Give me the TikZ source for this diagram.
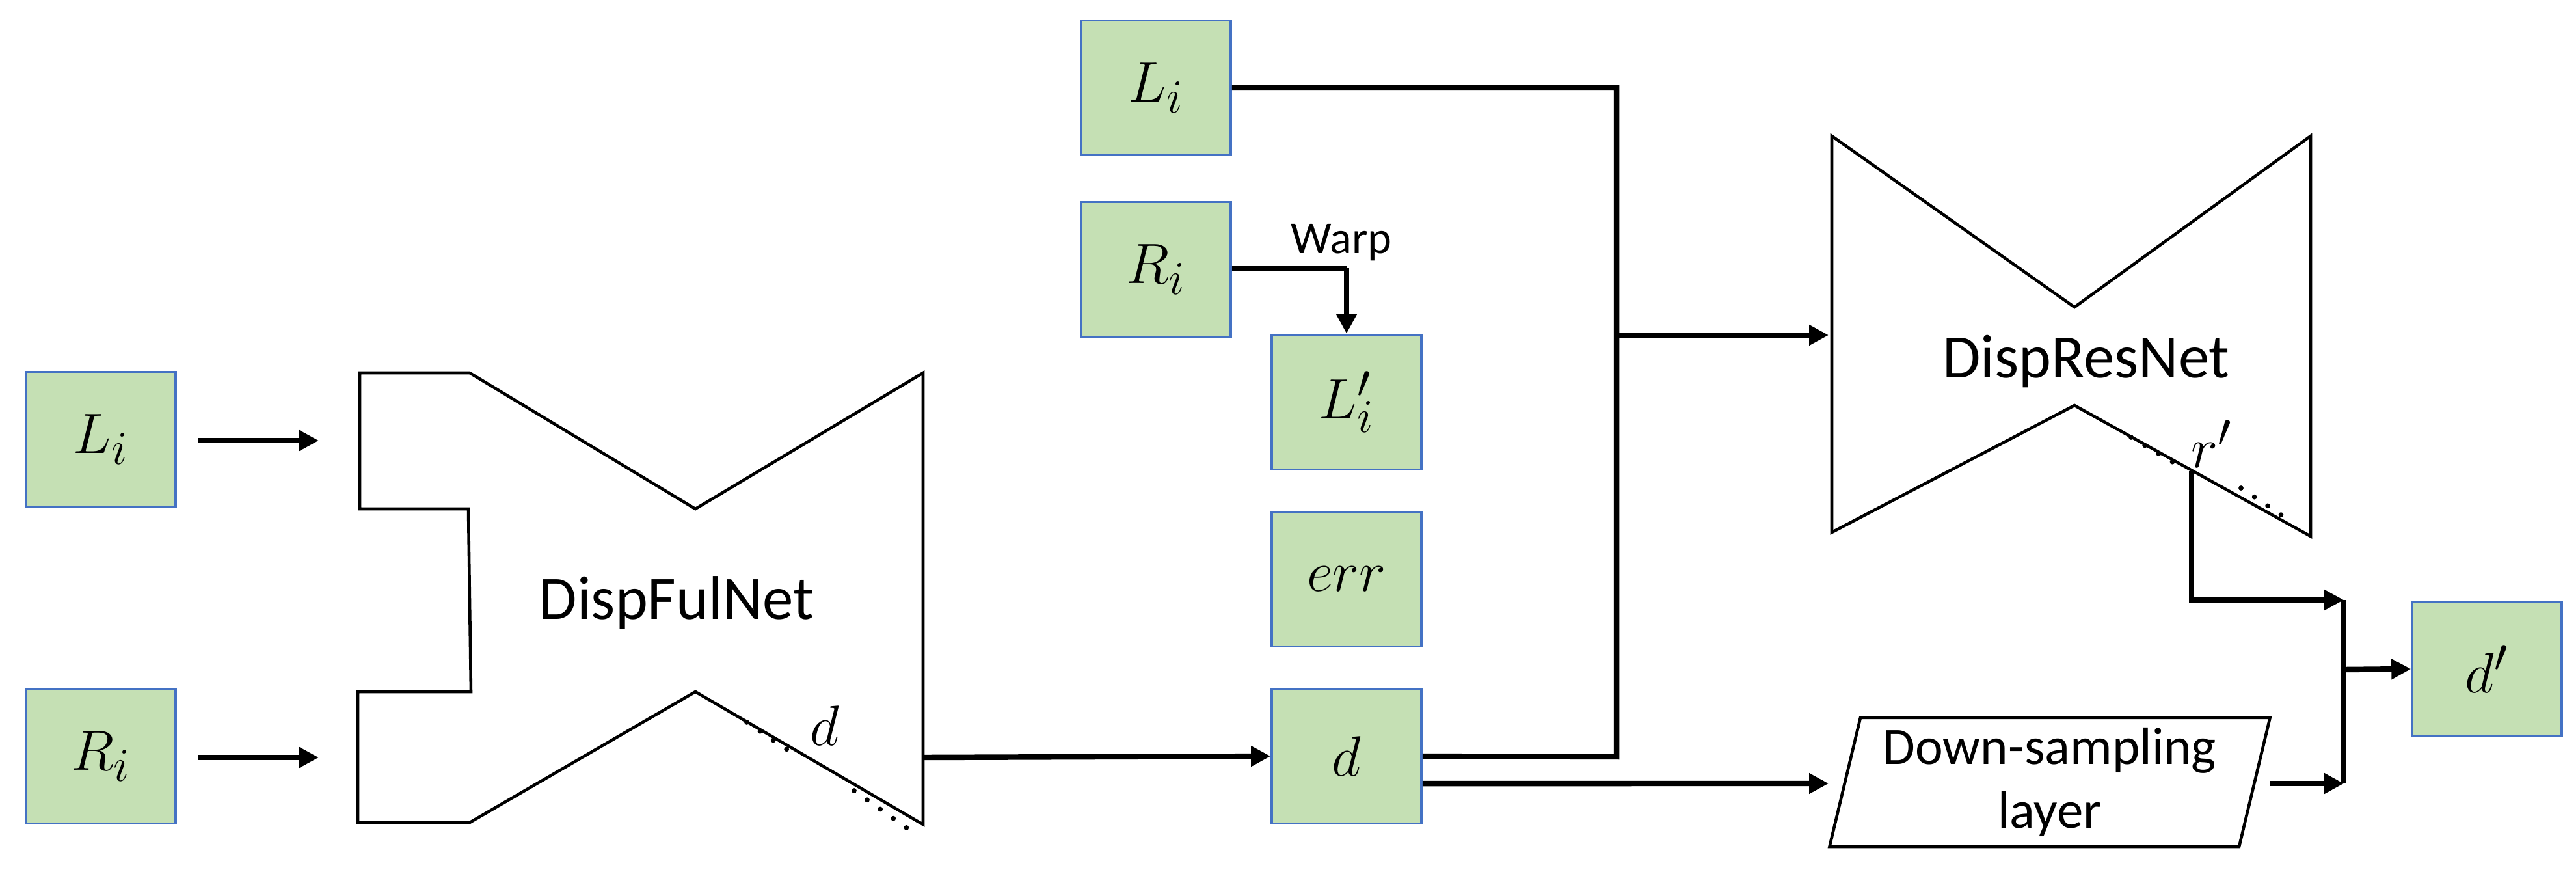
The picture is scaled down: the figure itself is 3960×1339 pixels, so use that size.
\documentclass[tikz,border=0pt]{standalone}
\usepackage{fontspec}
\setmainfont{Carlito}
\usetikzlibrary{arrows.meta,shapes.geometric}
\definecolor{boxg}{HTML}{C5E0B4}
\definecolor{boxb}{HTML}{4472C4}
\begin{document}
\begin{tikzpicture}[x=0.01cm,y=-0.01cm,
  box/.style={draw=boxb,line width=1pt,fill=boxg,minimum width=2.3cm,minimum height=2.07cm,inner sep=0pt,font=\fontsize{31}{34}\selectfont},
  net/.style={line width=1.3pt,line join=miter},
  con/.style={line width=2.4pt,-{Triangle[length=0.3cm,width=0.3cm]}},
  lin/.style={line width=2.4pt},
  lbl/.style={font=\fontsize{27}{30}\selectfont},
  dots/.style={line width=2.2pt,dash pattern=on 0pt off 7pt,line cap=round}]
\useasboundingbox (0,0) rectangle (3960,1339);
% boxes
\node[box] (L1) at (155,675) {$L_i$};
\node[box] (R1) at (155,1162) {$R_i$};
\node[box] (L2) at (1777,135) {$L_i$};
\node[box] (R2) at (1777,414) {$R_i$};
\node[box] (Lp) at (2070,618) {$L_i'$};
\node[box] (err) at (2070,890) {$err$};
\node[box] (d) at (2070,1162) {$d$};
\node[box] (dp) at (3823,1028) {$d'$};
% DispFulNet
\draw[net] (553,573) -- (722,573) -- (1069,782) -- (1419,573) -- (1419,1267) -- (1069,1063) -- (722,1264) -- (550,1264) -- (550,1063) -- (724,1063) -- (720,782) -- (553,782) -- cycle;
\node[lbl] (fn) at (1040,926) {DispFulNet};
\node[font=\fontsize{31}{34}\selectfont] (dl) at (1268,1115) {$d$};
\draw[dots] (1148,1110) -- (1222,1160);
\draw[dots] (1313,1215) -- (1395,1273);
\coordinate (fout) at (1419,1164);
\draw[con] (304,677) -- (490,677);
\draw[con] (304,1164) -- (490,1164);
\draw[con] (fout) -- (d.west);
% DispResNet
\draw[net] (2816,209) -- (3189,472) -- (3552,209) -- (3552,824) -- (3189,623) -- (2816,818) -- cycle;
\node[lbl] (rn) at (3207,555) {DispResNet};
\node[font=\fontsize{31}{34}\selectfont] (rl) at (3400,682) {$r'$};
\draw[dots] (3276,672) -- (3340,710);
\draw[dots] (3445,750) -- (3520,800);
% connectors
\coordinate (j1) at (2485,135);
\coordinate (j2) at (2485,1163);
\coordinate (j3) at (2485,515);
\draw[lin] (L2.east) -- (j1) -- (j2) -- (d.east);
\draw[con] (j3) -- (2811,515);
\coordinate (w) at (2070,412);
\draw[lin] (R2.east |- w) -- (w);
\draw[con] (w) -- (Lp.north);
\node[font=\fontsize{20}{24}\selectfont] (warp) at (2062,373) {Warp};
% down-sampling
\node[draw,net,trapezium,trapezium stretches=true,minimum width=6.78cm,minimum height=1.98cm,trapezium left angle=76,trapezium right angle=104,inner sep=0pt,align=center,font=\fontsize{23}{28}\selectfont] (ds) at (3151,1202) {Down-sampling\\layer};
\draw[con] ([yshift=-0.42cm]d.east) -- (2811,1204);
\coordinate (b1) at (3603,922);
\coordinate (b2) at (3603,1204);
\coordinate (rout) at (3369,724);
\draw[lin] (b1) -- (b2);
\draw[con] (rout) -- (3369,922) -- (b1);
\draw[con] (3490,1204) -- (b2);
\draw[con] (3603,1029) -- (dp.west);
\end{tikzpicture}
\end{document}
